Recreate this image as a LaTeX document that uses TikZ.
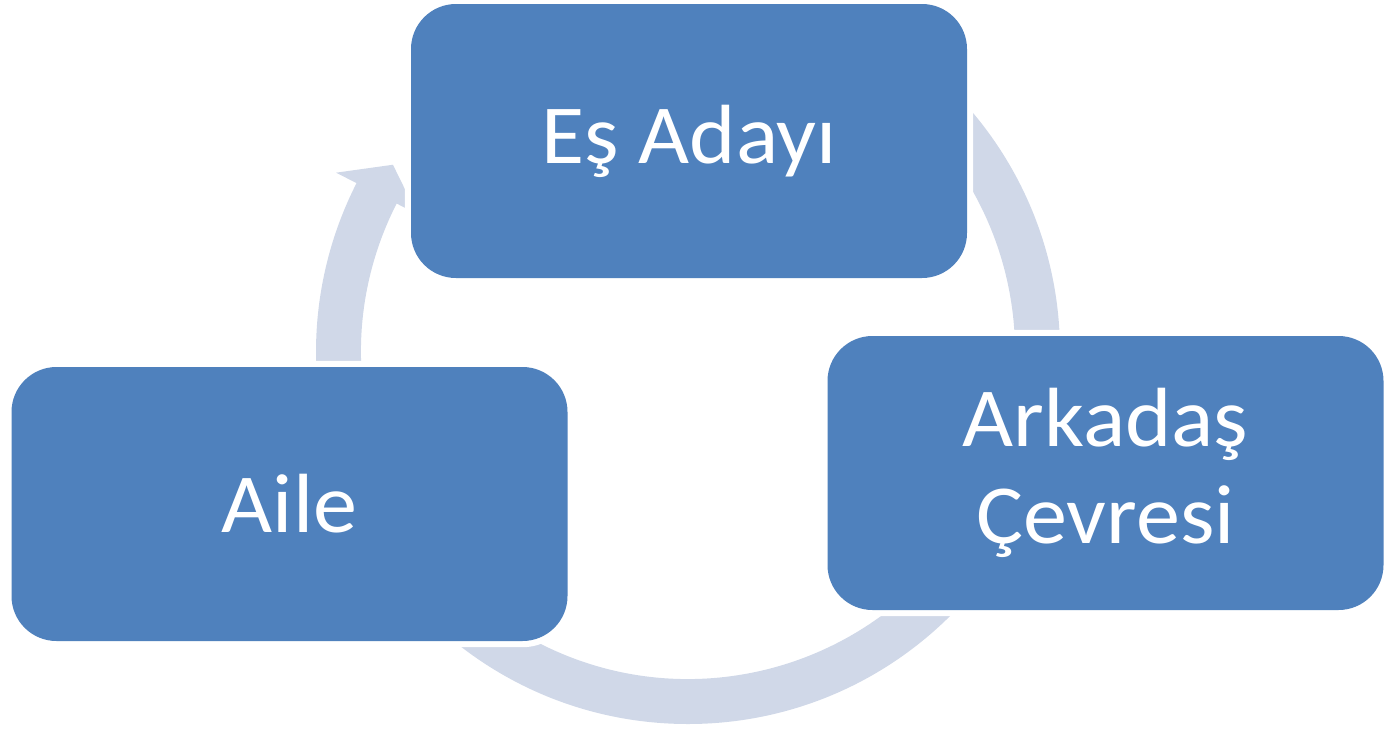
\documentclass[tikz,border=0pt]{standalone}
\usepackage{fontspec}
\setmainfont{Carlito}[FakeStretch=1.05]
\usetikzlibrary{calc,backgrounds}
\definecolor{boxblue}{HTML}{4F81BD}
\definecolor{ringc}{HTML}{D0D8E8}
\tikzset{
  cyclebox/.style={fill=boxblue, rounded corners=45pt, minimum width=556pt, minimum height=274pt,
    inner sep=0pt, text=white, align=center, font=\fontsize{84}{97}\selectfont},
}
\begin{document}
\begin{tikzpicture}[x=1pt,y=1pt]
\useasboundingbox (0,0) rectangle (1387,-729);
\clip (0,0) rectangle (1387,-729);
\node[cyclebox] (top) at (689,-141) {Eş Adayı};
\node[cyclebox] (right) at (1105.5,-473) {Arkadaş\\Çevresi};
\node[cyclebox] (left) at (289.5,-504) {Aile};
\coordinate (c) at (688,-352);
\begin{pgfonlayer}{background}
  \fill[ringc] ($(c)+(90:372pt)$) arc[start angle=90, end angle=-207, radius=372pt]
    -- ($(c)+(-207:395pt)$) -- ($(c)+(-212.4:349.5pt)$) -- ($(c)+(-207:304pt)$)
    -- ($(c)+(-207:327pt)$) arc[start angle=-207, end angle=90, radius=327pt] -- cycle;
  \foreach \n in {top,right,left}{
    \fill[white, rounded corners=51pt] ($(\n.south west)+(-6pt,-6pt)$) rectangle ($(\n.north east)+(6pt,6pt)$);
  }
\end{pgfonlayer}
\end{tikzpicture}
\end{document}
